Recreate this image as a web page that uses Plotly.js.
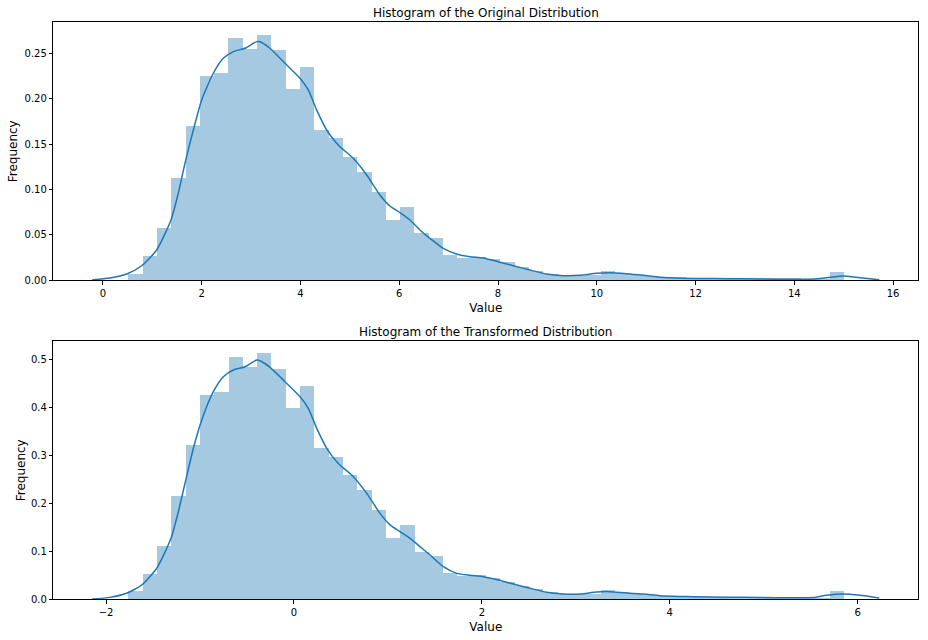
<!DOCTYPE html>
<html>
<head>
<meta charset="utf-8">
<script src="https://cdn.plot.ly/plotly-3.0.1.min.js"></script>
<style>html,body{margin:0;padding:0;background:#fff;}#chart{width:928px;height:640px;}</style>
</head>
<body>
<div id="chart"></div>
<script>
// ---- Original distribution ----
const origBinStart = 0.512;
const origBinWidth = 0.2898;
const origDensity = [0.0074, 0.027, 0.058, 0.1126, 0.1697, 0.2248, 0.2285, 0.267, 0.2546, 0.270,
  0.2535, 0.211, 0.2348, 0.1656, 0.1568, 0.1358, 0.1189, 0.0971, 0.0659, 0.0802,
  0.0519, 0.0464, 0.0276, 0.0247, 0.0254, 0.023, 0.020, 0.0143, 0.0105, 0.0072,
  0.0057, 0.0052, 0.0062, 0.0100, 0.0078, 0.0062, 0.0051, 0.0040, 0.0033, 0.0029,
  0.0027, 0.0026, 0.0025, 0.0025, 0.0024, 0.0023, 0.0021, 0.0018, 0.0015, 0.0095];
const origKdeX = [-0.217, 0.142, 0.48, 0.783, 1.087, 1.377, 1.525, 1.66, 1.83, 1.998, 2.234, 2.436, 2.64, 2.875,
  3.112, 3.18, 3.38, 3.686, 3.99, 4.157, 4.326, 4.529, 4.764, 5.068, 5.34, 5.608, 5.81, 6.013, 6.216, 6.418,
  6.62, 6.89, 7.16, 7.43, 7.70, 8.0, 8.31, 8.645, 8.98, 9.32, 9.66, 10.0, 10.27, 10.6, 10.94, 11.28, 11.7,
  12.2, 12.63, 13.3, 13.98, 14.38, 14.65, 14.99, 15.33, 15.72];
const origKdeY = [0.0005, 0.0025, 0.0069, 0.016, 0.0334, 0.0664, 0.0958, 0.1288, 0.1655, 0.1986, 0.228, 0.2445,
  0.2518, 0.2555, 0.2628, 0.2627, 0.2555, 0.239, 0.2225, 0.2096, 0.1876, 0.1655, 0.149, 0.1343, 0.116, 0.094,
  0.0818, 0.0745, 0.0664, 0.0554, 0.0462, 0.0352, 0.029, 0.026, 0.0246, 0.0205, 0.0161, 0.0113, 0.0069, 0.0051,
  0.0055, 0.0077, 0.0084, 0.0073, 0.0055, 0.0033, 0.0022, 0.0019, 0.0018, 0.0015, 0.0011, 0.0015, 0.0029,
  0.0048, 0.0029, 0.0007];

// ---- Transformed distribution ----
const transBinStart = -1.7625;
const transBinWidth = 0.1523;
const transDensity = [0.018, 0.0527, 0.111, 0.215, 0.3215, 0.4256, 0.4319, 0.5055, 0.484, 0.513,
  0.4798, 0.3985, 0.4444, 0.3152, 0.2965, 0.259, 0.2277, 0.186, 0.1277, 0.1548,
  0.0985, 0.0902, 0.0554, 0.0485, 0.0500, 0.0445, 0.036, 0.028, 0.0205, 0.0146,
  0.0108, 0.0104, 0.012, 0.0191, 0.0145, 0.012, 0.0095, 0.0075, 0.0064, 0.0056,
  0.0054, 0.0052, 0.0050, 0.0048, 0.0047, 0.0045, 0.0042, 0.0038, 0.0032, 0.0174];
const transKdeX = [-2.146, -1.957, -1.78, -1.62, -1.46, -1.308, -1.23, -1.159, -1.07, -0.981, -0.858, -0.751,
  -0.645, -0.52, -0.396, -0.361, -0.254, -0.095, 0.065, 0.153, 0.243, 0.349, 0.473, 0.632, 0.775, 0.916, 1.023,
  1.129, 1.236, 1.342, 1.449, 1.59, 1.733, 1.874, 2.016, 2.175, 2.335, 2.513, 2.69, 2.867, 3.045, 3.222, 3.364,
  3.542, 3.72, 3.896, 4.109, 4.25, 4.60, 4.96, 5.315, 5.528, 5.67, 5.847, 6.025, 6.23];
const transKdeY = [0.0006, 0.004, 0.0125, 0.0298, 0.0646, 0.127, 0.1826, 0.2417, 0.3146, 0.3735, 0.4325, 0.4638,
  0.4777, 0.4846, 0.4985, 0.497, 0.4833, 0.4533, 0.422, 0.398, 0.356, 0.3146, 0.283, 0.2555, 0.2208, 0.179,
  0.155, 0.141, 0.127, 0.1097, 0.0923, 0.068, 0.054, 0.05, 0.0471, 0.0402, 0.0319, 0.0229, 0.0146, 0.011,
  0.011, 0.0152, 0.0159, 0.013, 0.011, 0.0075, 0.006, 0.0055, 0.0045, 0.004, 0.003, 0.0035, 0.0083, 0.011,
  0.0083, 0.0028];

const titles = ["Histogram of the Original Distribution", "Histogram of the Transformed Distribution"];
const xLabel = "Value";
const yLabel = "Frequency";

function centers(start, w, n) {
  const c = [];
  for (let i = 0; i < n; i++) c.push(start + (i + 0.5) * w);
  return c;
}

const barColor = "rgba(31,119,180,0.4)";
const lineColor = "#1f77b4";
const FONT = "DejaVu Sans, sans-serif";

const traces = [
  {type: "bar", x: centers(origBinStart, origBinWidth, origDensity.length), y: origDensity,
   width: origBinWidth, marker: {color: barColor, line: {width: 0}}, xaxis: "x", yaxis: "y", hoverinfo: "x+y"},
  {type: "scatter", mode: "lines", x: origKdeX, y: origKdeY, line: {color: lineColor, width: 1.5, shape: "spline", smoothing: 0.6},
   xaxis: "x", yaxis: "y"},
  {type: "bar", x: centers(transBinStart, transBinWidth, transDensity.length), y: transDensity,
   width: transBinWidth, marker: {color: barColor, line: {width: 0}}, xaxis: "x2", yaxis: "y2", hoverinfo: "x+y"},
  {type: "scatter", mode: "lines", x: transKdeX, y: transKdeY, line: {color: lineColor, width: 1.5, shape: "spline", smoothing: 0.6},
   xaxis: "x2", yaxis: "y2"}
];

const axisCommon = {
  showgrid: false, zeroline: false, showline: true, linecolor: "#000", linewidth: 1, mirror: true,
  ticks: "outside", ticklen: 3.5, tickwidth: 1, tickcolor: "#000",
  tickfont: {family: FONT, size: 10, color: "#000"}
};
const xDomain = [53.3 / 928, 918.3 / 928];

const layout = {
  width: 928, height: 640,
  margin: {l: 0, r: 0, t: 0, b: 0},
  paper_bgcolor: "#fff", plot_bgcolor: "#fff",
  showlegend: false, bargap: 0,
  font: {family: FONT, color: "#000"},
  xaxis: Object.assign({}, axisCommon, {domain: xDomain, range: [-1.006, 16.51], dtick: 2, tick0: 0, anchor: "y",
    title: {text: xLabel, font: {family: FONT, size: 12, color: "#000"}, standoff: 5}}),
  yaxis: Object.assign({}, axisCommon, {domain: [1 - 280.3 / 640, 1 - 22.3 / 640], range: [0, 0.2841], dtick: 0.05, tick0: 0,
    tickformat: ".2f", anchor: "x",
    title: {text: yLabel, font: {family: FONT, size: 12, color: "#000"}, standoff: 4}}),
  xaxis2: Object.assign({}, axisCommon, {domain: xDomain, range: [-2.561, 6.645], dtick: 2, tick0: 0, anchor: "y2",
    title: {text: xLabel, font: {family: FONT, size: 12, color: "#000"}, standoff: 5}}),
  yaxis2: Object.assign({}, axisCommon, {domain: [1 - 599.3 / 640, 1 - 341.3 / 640], range: [0, 0.5375], dtick: 0.1, tick0: 0,
    tickformat: ".1f", anchor: "x2",
    title: {text: yLabel, font: {family: FONT, size: 12, color: "#000"}, standoff: 2}}),
  annotations: [
    {text: titles[0], xref: "x domain", yref: "y domain", x: 0.5, y: 1, xanchor: "center", yanchor: "bottom",
     yshift: 0, showarrow: false, font: {family: FONT, size: 12, color: "#000"}},
    {text: titles[1], xref: "x2 domain", yref: "y2 domain", x: 0.5, y: 1, xanchor: "center", yanchor: "bottom",
     yshift: 0, showarrow: false, font: {family: FONT, size: 12, color: "#000"}}
  ]
};

Plotly.newPlot("chart", traces, layout, {displayModeBar: false, staticPlot: true});
</script>
</body>
</html>
